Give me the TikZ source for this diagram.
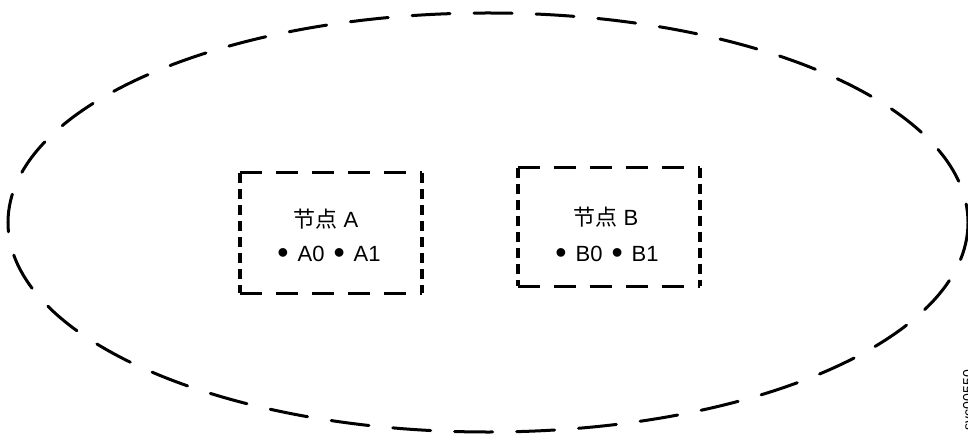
\documentclass[tikz,border=0pt]{standalone}
\usepackage{fontspec}
\setmainfont{Liberation Sans}
\newfontfamily\cjk{Noto Sans CJK SC}
\newcommand\bigdot{\raisebox{-2.5pt}{\fontsize{32}{32}\selectfont •}}
\newcommand\gap{\hspace{9pt}}
\begin{document}
\begin{tikzpicture}[x=1pt,y=-1pt,
  ring/.style={line width=3pt, dash pattern=on 38pt off 24pt, line cap=round},
  hside/.style={line width=2.6pt, dash pattern=on 22pt off 14pt},
  vside/.style={line width=4pt, dash pattern=on 10pt off 6pt},
  boxnode/.style={minimum width=182pt, minimum height=120pt, inner sep=0pt},
  lbl/.style={font=\fontsize{22}{26}\selectfont, inner sep=0pt},
  tag/.style={font=\fontsize{14}{16}\selectfont, inner sep=0pt, rotate=90}]
\useasboundingbox (0,0) rectangle (968,438);
% outer cluster
\node[draw=none, minimum width=960pt, minimum height=419pt, inner sep=0pt] (cluster) at (488,222.5) {};
\draw[ring] (cluster.center) ellipse [x radius=480, y radius=209.5];
% node A
\node[boxnode] (boxA) at (331,233) {};
\draw[hside] (boxA.north west) -- (boxA.north east);
\draw[hside] (boxA.south west) -- (boxA.south east);
\draw[vside] (boxA.north west) -- (boxA.south west);
\draw[vside] (boxA.north east) -- (boxA.south east);
\node[lbl] (titleA) at (326,219) {{\cjk 节点} A};
\node[lbl] (itemsA) at (329,255) {\bigdot\gap A0\gap\bigdot\gap A1};
% node B
\node[boxnode, minimum height=118pt] (boxB) at (609,227) {};
\draw[hside] (boxB.north west) -- (boxB.north east);
\draw[hside] (boxB.south west) -- (boxB.south east);
\draw[vside] (boxB.north west) -- (boxB.south west);
\draw[vside] (boxB.north east) -- (boxB.south east);
\node[lbl] (titleB) at (606,217) {{\cjk 节点} B};
\node[lbl] (itemsB) at (607,255) {\bigdot\gap B0\gap\bigdot\gap B1};
% figure tag
\node[tag, anchor=north east] (figtag) at (963,370) {svc00550};
\end{tikzpicture}
\end{document}
